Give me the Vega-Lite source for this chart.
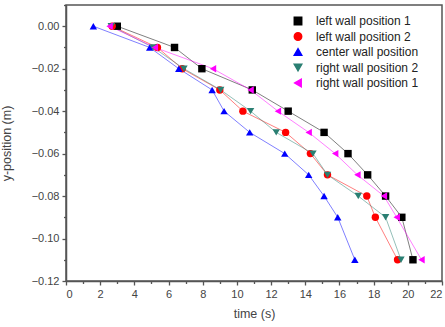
{
  "$schema": "https://vega.github.io/schema/vega-lite/v6.json",
  "width": 376,
  "height": 276,
  "autosize": {"type": "none"},
  "padding": {"left": 66, "top": 5, "right": 3, "bottom": 46},
  "config": {
    "font": "Liberation Sans",
    "view": {"stroke": "#555555", "strokeWidth": 1.5},
    "axis": {"grid": false, "domainColor": "#555555", "tickColor": "#555555", "labelColor": "#444444", "titleColor": "#444444", "labelFontSize": 11, "titleFontSize": 12.5, "titleFontWeight": "normal", "domainWidth": 1.5, "tickWidth": 1.3}
  },
  "data": {"values": [
    {"s": "left wall position 1", "t": 3.0, "y": 0},
    {"s": "left wall position 1", "t": 6.35, "y": -0.01},
    {"s": "left wall position 1", "t": 7.95, "y": -0.02},
    {"s": "left wall position 1", "t": 10.9, "y": -0.03},
    {"s": "left wall position 1", "t": 13.0, "y": -0.04},
    {"s": "left wall position 1", "t": 15.1, "y": -0.05},
    {"s": "left wall position 1", "t": 16.5, "y": -0.06},
    {"s": "left wall position 1", "t": 17.65, "y": -0.07},
    {"s": "left wall position 1", "t": 18.7, "y": -0.08},
    {"s": "left wall position 1", "t": 19.65, "y": -0.09},
    {"s": "left wall position 1", "t": 20.3, "y": -0.11},
    {"s": "left wall position 2", "t": 2.7, "y": 0},
    {"s": "left wall position 2", "t": 5.35, "y": -0.01},
    {"s": "left wall position 2", "t": 6.8, "y": -0.02},
    {"s": "left wall position 2", "t": 9.0, "y": -0.03},
    {"s": "left wall position 2", "t": 10.35, "y": -0.04},
    {"s": "left wall position 2", "t": 12.85, "y": -0.05},
    {"s": "left wall position 2", "t": 14.3, "y": -0.06},
    {"s": "left wall position 2", "t": 15.3, "y": -0.07},
    {"s": "left wall position 2", "t": 17.6, "y": -0.08},
    {"s": "left wall position 2", "t": 18.1, "y": -0.09},
    {"s": "left wall position 2", "t": 19.4, "y": -0.11},
    {"s": "center wall position", "t": 1.6, "y": 0},
    {"s": "center wall position", "t": 4.9, "y": -0.01},
    {"s": "center wall position", "t": 6.6, "y": -0.02},
    {"s": "center wall position", "t": 8.55, "y": -0.03},
    {"s": "center wall position", "t": 9.25, "y": -0.04},
    {"s": "center wall position", "t": 10.75, "y": -0.05},
    {"s": "center wall position", "t": 12.8, "y": -0.06},
    {"s": "center wall position", "t": 14.2, "y": -0.07},
    {"s": "center wall position", "t": 15.1, "y": -0.08},
    {"s": "center wall position", "t": 15.9, "y": -0.09},
    {"s": "center wall position", "t": 16.9, "y": -0.11},
    {"s": "right wall position 2", "t": 2.65, "y": 0},
    {"s": "right wall position 2", "t": 5.1, "y": -0.01},
    {"s": "right wall position 2", "t": 6.9, "y": -0.02},
    {"s": "right wall position 2", "t": 9.05, "y": -0.03},
    {"s": "right wall position 2", "t": 10.8, "y": -0.04},
    {"s": "right wall position 2", "t": 12.3, "y": -0.05},
    {"s": "right wall position 2", "t": 14.45, "y": -0.06},
    {"s": "right wall position 2", "t": 15.3, "y": -0.07},
    {"s": "right wall position 2", "t": 17.1, "y": -0.08},
    {"s": "right wall position 2", "t": 18.7, "y": -0.09},
    {"s": "right wall position 2", "t": 19.6, "y": -0.11},
    {"s": "right wall position 1", "t": 2.55, "y": 0},
    {"s": "right wall position 1", "t": 5.2, "y": -0.01},
    {"s": "right wall position 1", "t": 8.6, "y": -0.02},
    {"s": "right wall position 1", "t": 10.8, "y": -0.03},
    {"s": "right wall position 1", "t": 12.4, "y": -0.04},
    {"s": "right wall position 1", "t": 14.2, "y": -0.05},
    {"s": "right wall position 1", "t": 15.75, "y": -0.06},
    {"s": "right wall position 1", "t": 17.05, "y": -0.07},
    {"s": "right wall position 1", "t": 18.6, "y": -0.08},
    {"s": "right wall position 1", "t": 19.35, "y": -0.09},
    {"s": "right wall position 1", "t": 20.8, "y": -0.11}
  ]},
  "encoding": {
    "x": {"field": "t", "type": "quantitative", "scale": {"domain": [0, 22], "nice": false, "zero": false},
          "axis": {"title": "time (s)", "values": [0, 1, 2, 3, 4, 5, 6, 7, 8, 9, 10, 11, 12, 13, 14, 15, 16, 17, 18, 19, 20, 21, 22],
                   "labelExpr": "datum.value % 2 == 0 ? datum.label : ''",
                   "tickSize": {"condition": {"test": "datum.value % 2 == 0", "value": 4}, "value": 2.5},
                   "labelPadding": 3, "titlePadding": 8}},
    "y": {"field": "y", "type": "quantitative", "scale": {"domain": [-0.12, 0.01], "nice": false, "zero": false},
          "axis": {"title": "y-position (m)", "values": [-0.12, -0.11, -0.1, -0.09, -0.08, -0.07, -0.06, -0.05, -0.04, -0.03, -0.02, -0.01, 0, 0.01],
                   "format": ".2f",
                   "labelExpr": "abs(round(datum.value * 100)) % 2 == 0 ? datum.label : ''",
                   "tickSize": {"condition": {"test": "abs(round(datum.value * 100)) % 2 == 0", "value": 4}, "value": 2.5},
                   "labelPadding": 3, "titleX": -53}},
    "color": {"field": "s", "type": "nominal",
              "scale": {"domain": ["left wall position 1", "left wall position 2", "center wall position", "right wall position 2", "right wall position 1"],
                        "range": ["#000000", "#ff0000", "#0000ff", "#2a7f72", "#ff00ff"]},
              "legend": {"title": null, "orient": "none", "legendX": 226, "legendY": 10, "padding": 0, "labelFontSize": 12, "labelColor": "#222222", "labelOffset": 12, "rowPadding": 1.5, "symbolSize": 55, "symbolOpacity": 1}}
  },
  "layer": [
    {
      "mark": {"type": "line", "strokeWidth": 1, "strokeOpacity": 0.5},
      "encoding": {
        "order": {"field": "y", "sort": "descending"}
      }
    },
    {
      "mark": {"type": "point", "filled": true, "opacity": 1, "size": 55},
      "encoding": {
        "shape": {"field": "s", "type": "nominal",
                  "scale": {"domain": ["left wall position 1", "left wall position 2", "center wall position", "right wall position 2", "right wall position 1"],
                            "range": ["square", "circle", "triangle-up", "triangle-down", "triangle-left"]}}
      }
    }
  ]
}
